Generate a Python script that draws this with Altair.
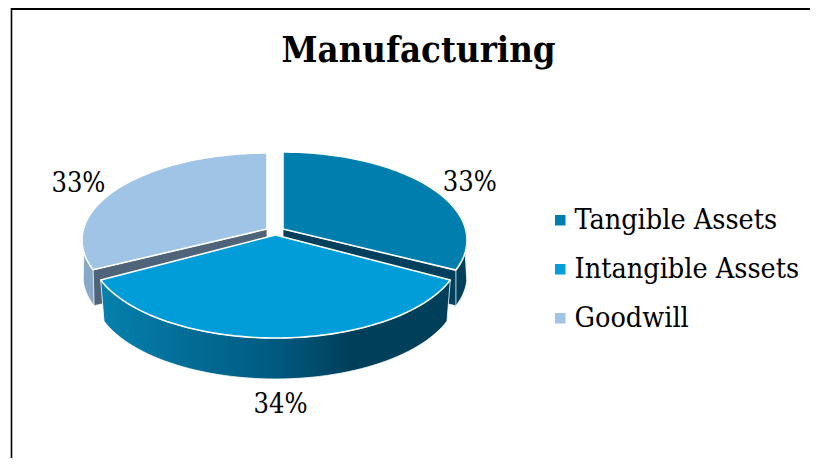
import math
import altair as alt
import pandas as pd

categories = ["Tangible Assets", "Intangible Assets", "Goodwill"]
shares = [33, 34, 33]
labels = ["33%", "34%", "33%"]
top_colors = ["#007fae", "#009dd9", "#9fc4e5"]

W, H = 802, 450
SERIF = "DejaVu Serif Condensed"

# geometry of the tilted pie: (cx, cy, rx, ry) of the top ellipse, apex, bottom ellipse
GEOM = {
    "Tangible Assets": dict(top=(283, 240, 184, 88), apex=(283, 229), bottom=(283, 276, 184, 87)),
    "Intangible Assets": dict(top=(275.5, 250, 186, 88), apex=(275.5, 235), bottom=(275.5, 291, 182.5, 88)),
    "Goodwill": dict(top=(267, 240, 185, 87), apex=(267, 229), bottom=(267, 276, 184, 87)),
}
M = 0.8446


def phi(theta_deg):
    t = math.radians(theta_deg) / 2
    return 2 * math.atan2(M * math.sin(t), math.cos(t))


def pt(ell, a):
    cx, cy, rx, ry = ell
    return (cx + rx * math.sin(a), cy - ry * math.cos(a))


def arc(ell, a0, a1, n=60):
    return [pt(ell, a0 + (a1 - a0) * i / n) for i in range(n + 1)]


bounds = []
acc = 0
for s in shares:
    bounds.append((acc / sum(shares) * 360, (acc + s) / sum(shares) * 360))
    acc += s
spans = {c: (phi(a), phi(b)) for c, (a, b) in zip(categories, bounds)}

X = alt.X("x:Q", axis=None, scale=alt.Scale(domain=[8, 8 + W], range=[0, W], nice=False, zero=False))
Y = alt.Y("y:Q", axis=None, scale=alt.Scale(domain=[8, 8 + H], range=[0, H], nice=False, zero=False))


def table(points, name=None):
    closed = list(points) + [points[0]]
    return pd.DataFrame(
        [{"x": p[0], "y": p[1], "i": i, "name": name} for i, p in enumerate(closed)]
    )


def poly(points, fill, stroke="white", sw=0.8):
    return (
        alt.Chart(table(points))
        .mark_line(fill=fill, stroke=stroke, strokeWidth=sw, strokeJoin="round")
        .encode(x=X, y=Y, order=alt.Order("i:Q"))
    )


t0, t1 = spans["Tangible Assets"]
i0, i1 = spans["Intangible Assets"]
g0, g1 = spans["Goodwill"]
gT, gI, gG = GEOM["Tangible Assets"], GEOM["Intangible Assets"], GEOM["Goodwill"]


def cut(g, a, depth):
    tip = pt(g["top"], a)
    low = pt(g["bottom"], a)
    ax, ay = g["apex"]
    return [(ax, ay), tip, low, (ax, ay + depth)]


goodwill_outer = poly(
    arc(gG["top"], g0 - 0.03, math.radians(262)) + arc(gG["bottom"], math.radians(267), g0 - 0.02, 20),
    "#87a8c6",
)
goodwill_cut = poly(cut(gG, g0, 38), "#4f6478")
tangible_outer = poly(
    arc(gT["top"], t1 + 0.03, math.radians(98)) + arc(gT["bottom"], math.radians(93), t1 + 0.02, 20),
    "#00405c",
)
tangible_cut = poly(cut(gT, t1, 38), "#00405c")
front_gradient = alt.Gradient(
    gradient="linear",
    x1=0, x2=1, y1=0, y2=0,
    stops=[
        alt.GradientStop(color="#0580ad", offset=0),
        alt.GradientStop(color="#005a80", offset=0.5),
        alt.GradientStop(color="#003f5a", offset=0.72),
        alt.GradientStop(color="#003f5a", offset=1),
    ],
)
front_wall = poly(
    arc(gI["top"], i0, i1) + arc(gI["bottom"], i1, i0), front_gradient
)

rows = []
for c in categories:
    a, b = spans[c]
    g = GEOM[c]
    rows.append(table([g["apex"]] + arc(g["top"], a, b, 90), c))
tops = (
    alt.Chart(pd.concat(rows))
    .mark_line(stroke="white", strokeWidth=1.6, strokeJoin="round")
    .encode(
        x=X,
        y=Y,
        order=alt.Order("i:Q"),
        fill=alt.Fill(
            "name:N",
            scale=alt.Scale(domain=categories, range=top_colors),
            legend=alt.Legend(
                title=None,
                orient="none",
                legendX=538,
                legendY=198,
                symbolType="square",
                symbolSize=110,
                symbolStrokeWidth=0,
                labelFont=SERIF,
                labelFontSize=28.5,
                labelColor="#000000",
                labelLimit=300,
                labelOffset=0,
                rowPadding=20,
            ),
        ),
    )
)

OFFS = [(36, -7), (5, 67), (-37, -6)]
lab_rows = []
for c, lab, (dx, dy) in zip(categories, labels, OFFS):
    a, b = spans[c]
    x, y = pt(GEOM[c]["top"], (a + b) / 2)
    lab_rows.append({"x": x + dx, "y": y + dy, "label": lab})
pct = (
    alt.Chart(pd.DataFrame(lab_rows))
    .mark_text(font=SERIF, fontSize=27, color="#000000", baseline="middle", align="center")
    .encode(x=X, y=Y, text="label:N")
)

border = alt.Chart(pd.DataFrame({"k": [0]}))
left = border.mark_rule(color="#000000", strokeWidth=1.6).encode(
    x=alt.value(3.5), y=alt.value(0), y2=alt.value(H)
)
top = border.mark_rule(color="#000000", strokeWidth=2).encode(
    y=alt.value(1), x=alt.value(3), x2=alt.value(W)
)

chart = (
    alt.layer(
        left, top, goodwill_outer, goodwill_cut, tangible_outer, tangible_cut,
        front_wall, tops, pct,
    )
    .properties(
        width=W,
        height=H,
        padding=0,
        autosize=alt.AutoSizeParams(type="none"),
        title=alt.TitleParams(
            "Manufacturing",
            font=SERIF,
            fontWeight="bold",
            fontSize=36.2,
            color="#000000",
            anchor="start",
            frame="group",
            dx=273.5,
            dy=66,
        ),
    )
    .configure_view(stroke=None)
)
chart.save("out.html", embed_options={"renderer": "svg", "actions": False})
